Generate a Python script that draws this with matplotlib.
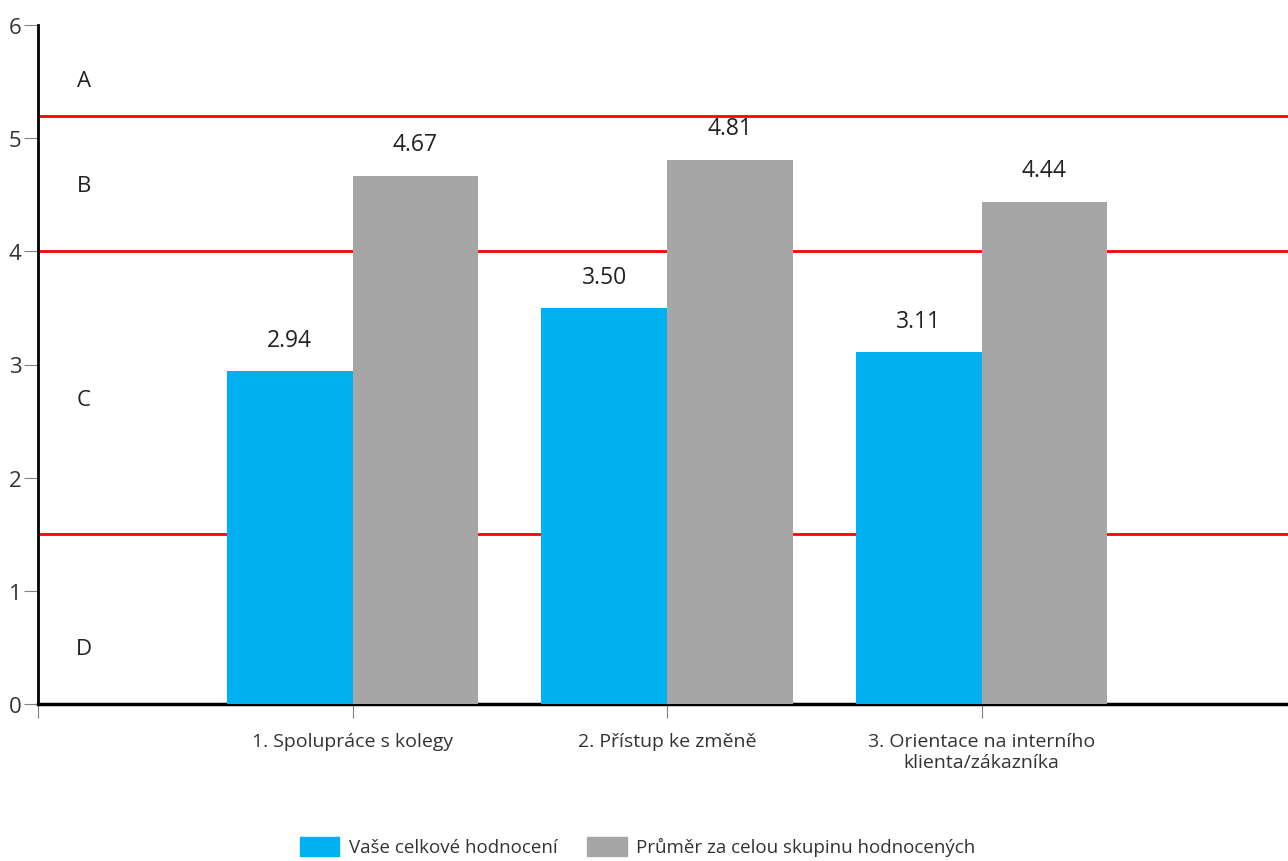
import numpy as np
import matplotlib.pyplot as plt
from matplotlib.patches import Patch

plt.rcParams['font.family'] = ['Open Sans', 'DejaVu Sans']

categories = ['1. Spolupráce s kolegy', '2. Přístup ke změně',
              '3. Orientace na interního\nklienta/zákazníka']
vase = [2.94, 3.50, 3.11]
prumer = [4.67, 4.81, 4.44]
series_names = ['Vaše celkové hodnocení', 'Průměr za celou skupinu hodnocených']
limits = [5.2, 4.0, 1.5]
grades = ['A', 'B', 'C', 'D']
grade_y = [5.51, 4.58, 2.69, 0.49]

blue = '#00b0f0'
gray = '#a6a6a6'

fig = plt.figure(figsize=(12.88, 8.62), dpi=100)
ax = fig.add_axes([38 / 1288, 157 / 862, 1258 / 1288, 679 / 862])

x = np.arange(1, len(categories) + 1)
w = 0.4
ax.bar(x - w / 2, vase, w, color=blue, zorder=3)
ax.bar(x + w / 2, prumer, w, color=gray, zorder=3)

for xi, v in zip(x, vase):
    ax.text(xi - w / 2, v + 0.17, f'{v:.2f}', ha='center', va='bottom', fontsize=16.5, color='#222222')
for xi, v in zip(x, prumer):
    ax.text(xi + w / 2, v + 0.17, f'{v:.2f}', ha='center', va='bottom', fontsize=16.5, color='#222222')

for lim in limits:
    ax.axhline(lim, color='#ff0000', lw=2, zorder=2)

for g, gy in zip(grades, grade_y):
    ax.text(0.145, gy, g, ha='center', va='center', fontsize=16, color='#222222')

ax.set_xlim(0, 4)
ax.set_ylim(0, 6)
ax.set_yticks(range(0, 7))
ax.set_xticks([0, 1, 2, 3])
ax.set_xticklabels([''] + categories, fontsize=14, color='#333333')
ax.tick_params(axis='y', labelsize=16, length=10, color='#808080', labelcolor='#333333', pad=2)
ax.tick_params(axis='x', length=10, color='#808080', pad=10)

for s in ['top', 'right']:
    ax.spines[s].set_visible(False)
ax.spines['left'].set_linewidth(2)
ax.spines['bottom'].set_linewidth(2.5)

handles = [Patch(color=blue), Patch(color=gray)]
fig.legend(handles, series_names, loc='upper center', bbox_to_anchor=(0.495, 32 / 862),
           ncol=2, frameon=False, fontsize=13.5, handlelength=2.1, handleheight=1.2,
           handletextpad=0.5, columnspacing=1.6, borderaxespad=0, labelcolor='#333333')

fig.savefig('out.png', dpi=100)
